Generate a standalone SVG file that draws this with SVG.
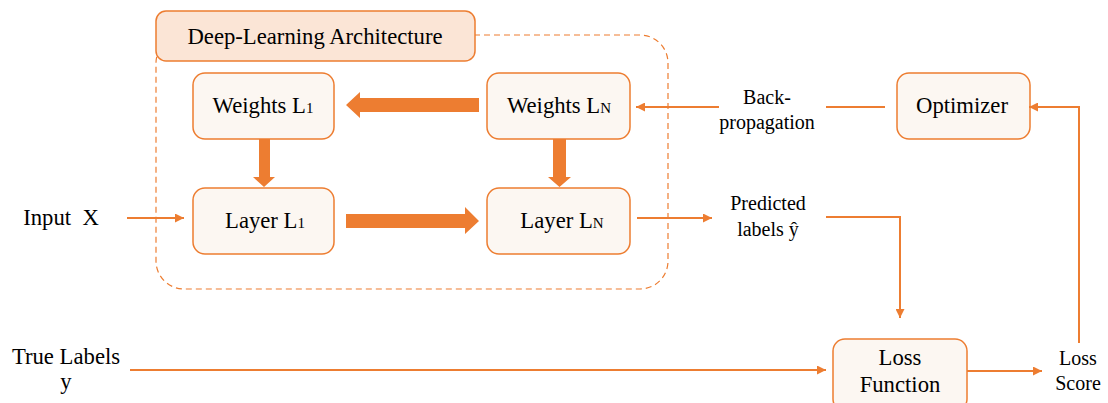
<svg xmlns="http://www.w3.org/2000/svg" width="1108" height="403" viewBox="0 0 1108 403">
  <defs>
    <style>
      .node { fill: #FCF7F2; stroke: #ED7D31; stroke-width: 1.5; }
      .title { fill: #FBE5D6; stroke: #ED7D31; stroke-width: 1.5; }
      .frame { fill: none; stroke: #ED7D31; stroke-width: 1.2; stroke-dasharray: 6 4; }
      .t { font-family: "Liberation Serif", "Times New Roman", serif; fill: #000; text-anchor: middle; }
      .big { font-size: 22.7px; }
      .lbl { font-size: 20px; }
      .sub { font-size: 15px; }
      .wire { fill: none; stroke: #ED7D31; stroke-width: 2; }
      .fat { fill: #ED7D31; stroke: none; }
    </style>
    <marker id="ah" viewBox="0 0 10 10" refX="10" refY="5" markerWidth="4.5" markerHeight="4.5" markerUnits="strokeWidth" orient="auto">
      <path d="M0,0 L10,5 L0,10 z" fill="#ED7D31"/>
    </marker>
  </defs>

  <!-- dashed architecture frame -->
  <rect class="frame" x="156" y="35" width="512" height="254" rx="28"/>

  <g id="title">
    <rect class="title" x="156" y="11" width="319" height="50" rx="10"/>
    <text class="t big" x="315" y="44">Deep-Learning Architecture</text>
  </g>

  <g id="weights-l1">
    <rect class="node" x="193" y="73" width="141" height="66" rx="12"/>
    <text class="t big" x="263" y="113">Weights L<tspan class="sub">1</tspan></text>
  </g>
  <g id="weights-ln">
    <rect class="node" x="487" y="73" width="143" height="66" rx="12"/>
    <text class="t big" x="559" y="113">Weights L<tspan class="sub">N</tspan></text>
  </g>
  <g id="layer-l1">
    <rect class="node" x="193" y="188" width="141" height="66" rx="12"/>
    <text class="t big" x="265" y="228">Layer L<tspan class="sub">1</tspan></text>
  </g>
  <g id="layer-ln">
    <rect class="node" x="487" y="188" width="143" height="66" rx="12"/>
    <text class="t big" x="562" y="228">Layer L<tspan class="sub">N</tspan></text>
  </g>
  <g id="optimizer">
    <rect class="node" x="897" y="73" width="133" height="66" rx="12"/>
    <text class="t big" x="962" y="113">Optimizer</text>
  </g>
  <g id="loss-function">
    <rect class="node" x="833" y="339" width="134" height="72" rx="12"/>
    <text class="t big" x="900" y="365">Loss</text>
    <text class="t big" x="900" y="392">Function</text>
  </g>

  <g id="input-x">
    <text class="t big" x="61" y="225" style="white-space:pre">Input  X</text>
  </g>
  <g id="true-labels">
    <text class="t big" x="66" y="364">True Labels</text>
    <text class="t big" x="66" y="389">y</text>
  </g>
  <g id="backprop-label">
    <text class="t lbl" x="767" y="104">Back-</text>
    <text class="t lbl" x="767" y="129">propagation</text>
  </g>
  <g id="predicted-label">
    <text class="t lbl" x="768" y="210">Predicted</text>
    <text class="t lbl" x="768" y="236">labels ŷ</text>
  </g>
  <g id="loss-score">
    <text class="t lbl" x="1078" y="365">Loss</text>
    <text class="t lbl" x="1078" y="390">Score</text>
  </g>

  <g id="connectors">
    <!-- thick block arrows inside the frame -->
    <path class="fat" d="M479,98 L360,98 L360,92 L346,105 L360,118 L360,112 L479,112 z"/>
    <path class="fat" d="M346,214 L465,214 L465,207 L479,221 L465,234 L465,228 L346,228 z"/>
    <path class="fat" d="M259,139 L270,139 L270,177 L275,177 L264,187 L253,177 L259,177 z"/>
    <path class="fat" d="M553,139 L566,139 L566,177 L571,177 L559.5,187 L548,177 L553,177 z"/>

    <!-- thin wires -->
    <line class="wire" x1="127" y1="218" x2="184" y2="218" marker-end="url(#ah)"/>
    <line class="wire" x1="637" y1="218" x2="712" y2="218" marker-end="url(#ah)"/>
    <polyline class="wire" points="826,217 900,217 900,318" marker-end="url(#ah)"/>
    <line class="wire" x1="130" y1="370" x2="826" y2="370" marker-end="url(#ah)"/>
    <line class="wire" x1="967" y1="371" x2="1042" y2="371" marker-end="url(#ah)"/>
    <polyline class="wire" points="1079,343 1079,107 1029,107" marker-end="url(#ah)"/>
    <line class="wire" x1="885" y1="107" x2="826" y2="107"/>
    <line class="wire" x1="719" y1="107" x2="636" y2="107" marker-end="url(#ah)"/>
  </g>
</svg>
